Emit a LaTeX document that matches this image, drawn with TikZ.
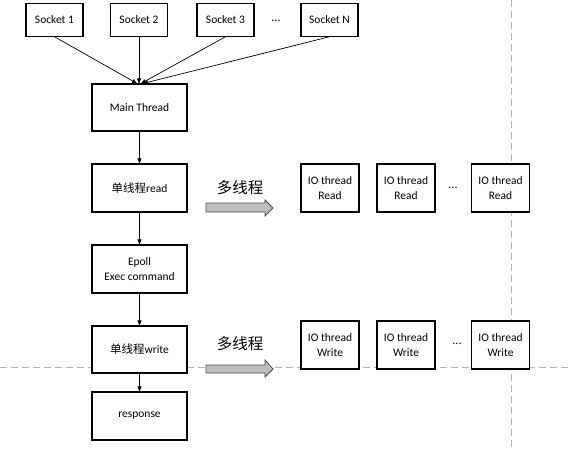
\documentclass[tikz,border=0pt]{standalone}
\usepackage{fontspec}
\setmainfont{Carlito}
\newfontfamily\cjk{Noto Sans CJK SC}
\usetikzlibrary{arrows.meta}
\begin{document}
\begin{tikzpicture}[x=1pt,y=-1pt,
  box/.style={draw=black,line width=1.1pt,fill=white,inner sep=0pt,align=center,
    font=\fontsize{11.5}{15}\selectfont},
  sock/.style={box,minimum width=57pt,minimum height=33pt},
  mainbox/.style={box,minimum width=95pt,minimum height=47pt},
  iobox/.style={box,minimum width=58pt,minimum height=48pt},
  conn/.style={-{Triangle[length=5pt,width=4pt]},line width=0.7pt},
  guide/.style={draw=black!30,line width=1pt,dash pattern=on 7pt off 4pt},
  fat/.style={fill=black!25,draw=black!70,line width=0.8pt},
  dots/.style={font=\fontsize{12}{14}\selectfont,inner sep=0pt},
  biglabel/.style={font=\cjk\fontsize{15.5}{18}\selectfont,inner sep=0pt}]
\useasboundingbox (0,0) rectangle (571,451);
\draw[guide] (0,367) -- (571,367);
\draw[guide] (511,0) -- (511,451);
% sockets
\node[sock] (s1) at (54.5,19.7) {Socket 1};
\node[sock] (s2) at (139,19.7) {Socket 2};
\node[sock] (s3) at (225.5,19.7) {Socket 3};
\node[dots] (sd) at (276,21) {...};
\node[sock] (sn) at (329.5,19.7) {Socket N};
% main column
\node[mainbox] (main) at (139.5,107.5) {Main Thread};
\node[mainbox,minimum height=48pt] (rd) at (139.5,188) {{\cjk 单线程}read};
\node[mainbox,minimum height=48pt] (ep) at (139.5,269) {Epoll\\Exec command};
\node[mainbox] (wr) at (139.5,349.5) {{\cjk 单线程}write};
\node[mainbox,minimum height=48pt] (resp) at (139.5,416) {response};
% connectors
\draw[conn] (s1.south) -- ([xshift=-2.5pt]main.north);
\draw[conn] (s2.south) -- ([xshift=-0.5pt]main.north);
\draw[conn] (s3.south) -- ([xshift=1.5pt]main.north);
\draw[conn] (sn.south) -- ([xshift=3.5pt]main.north);
\draw[conn] (main) -- (rd);
\draw[conn] (rd) -- (ep);
\draw[conn] (ep) -- (wr);
\draw[conn] (wr) -- (resp);
% multi-thread labels and fat arrows
\node[biglabel] (ml1) at (240,188) {多线程};
\node[biglabel] (ml2) at (240,344) {多线程};
\draw[fat] (206,203) -- (265,203) -- (265,200) -- (273,208) -- (265,216) -- (265,212) -- (206,212) -- cycle;
\draw[fat] (206,365) -- (265,365) -- (265,360) -- (273,369) -- (265,377) -- (265,373) -- (206,373) -- cycle;
% IO thread read
\node[iobox] (r1) at (330,188) {IO thread\\Read};
\node[iobox] (r2) at (406,188) {IO thread\\Read};
\node[dots] (rdots) at (453,188) {...};
\node[iobox] (r3) at (500.5,188) {IO thread\\Read};
% IO thread write
\node[iobox] (w1) at (330,345) {IO thread\\Write};
\node[iobox] (w2) at (406,345) {IO thread\\Write};
\node[dots] (wdots) at (457,344) {...};
\node[iobox] (w3) at (500.5,345) {IO thread\\Write};
\end{tikzpicture}
\end{document}
